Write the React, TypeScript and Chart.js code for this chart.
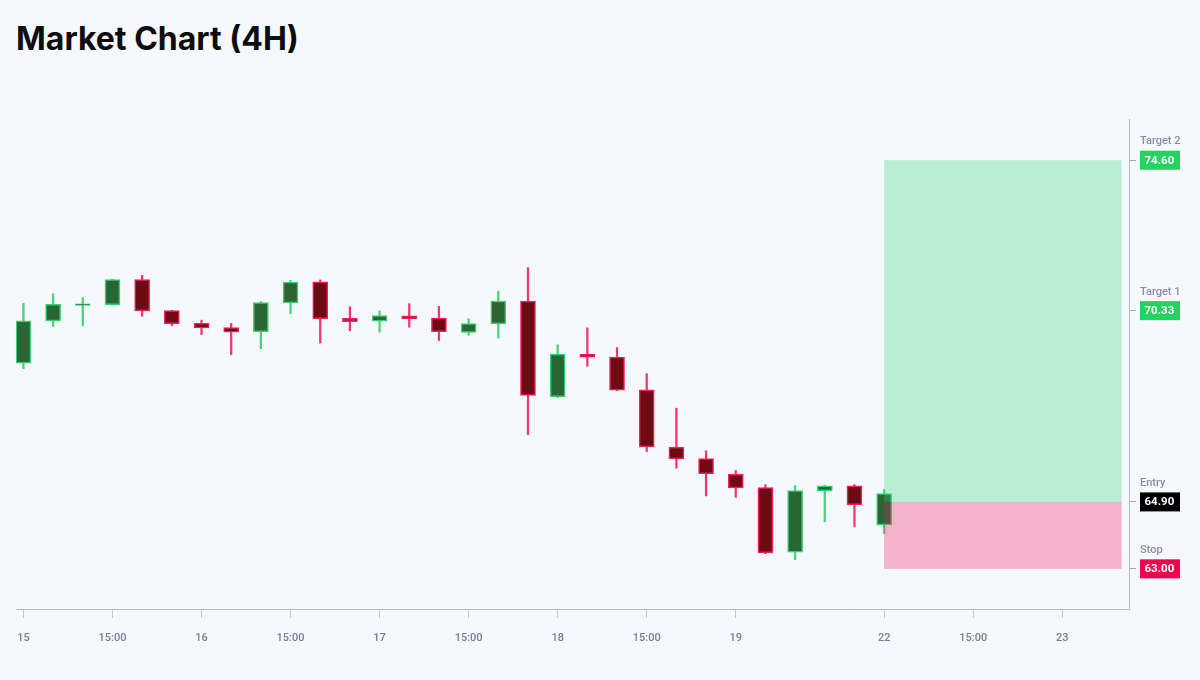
import React, { useEffect, useRef } from "react";
import { Chart, registerables } from "chart.js";

Chart.register(...registerables);

// ---- data ----
const candleIndex = [0, 1, 2, 3, 4, 5, 6, 7, 8, 9, 10, 11, 12, 13, 14, 15, 16, 17, 18, 19, 20, 21, 22, 23, 24, 25, 26, 27, 28, 29];
const openValues = [68.84, 70.04, 70.48, 70.5, 71.21, 70.33, 69.97, 69.85, 69.73, 70.55, 71.15, 70.11, 70.03, 70.18, 70.12, 69.71, 69.95, 70.6, 67.89, 69.1, 69.01, 68.08, 66.46, 66.13, 65.68, 65.31, 63.47, 65.21, 65.36, 64.25];
const highValues = [70.54, 70.81, 70.7, 71.22, 71.33, 70.34, 70.06, 69.97, 70.59, 71.19, 71.2, 70.44, 70.32, 70.53, 70.45, 70.1, 70.88, 71.55, 69.36, 69.84, 69.28, 68.54, 67.56, 66.35, 65.79, 65.39, 65.36, 65.37, 65.39, 65.25];
const lowValues = [68.68, 69.88, 69.9, 70.49, 70.17, 69.9, 69.65, 69.08, 69.25, 70.24, 69.41, 69.76, 69.72, 69.86, 69.48, 69.63, 69.55, 66.81, 67.86, 68.75, 68.06, 66.33, 65.86, 65.07, 65.03, 63.43, 63.26, 64.34, 64.19, 64.0];
const closeValues = [70.04, 70.51, 70.52, 71.21, 70.32, 69.96, 69.84, 69.72, 70.56, 71.14, 70.1, 70.02, 70.19, 70.1, 69.73, 69.96, 70.6, 67.92, 69.1, 69.01, 68.07, 66.46, 66.12, 65.7, 65.3, 63.46, 65.22, 65.36, 64.82, 65.14];

const xTickIndex = [0, 3, 6, 9, 12, 15, 18, 21, 24, 29, 32, 35];
const xTickLabels = ["15", "15:00", "16", "15:00", "17", "15:00", "18", "15:00", "19", "22", "15:00", "23"];

const levelNames = ["Target 2", "Target 1", "Entry", "Stop"];
const levelValues = [74.6, 70.33, 64.9, 63.0];
const levelColors = ["#22d35f", "#22d35f", "#000000", "#f0044f"];

const tradeStartIndex = 29;
const tradeEndIndex = 37;

const X_MIN = -0.25;
const X_MAX = 37.25;
const Y_MIN = 61.86;
const Y_MAX = 75.77;

const UP_FILL = "#2a6536";
const DOWN_FILL = "#6e0b12";
const UP_LINE = "#35d16a";
const DOWN_LINE = "#f01e5c";
const UP_WICK = "#45d47c";
const DOWN_WICK = "#f5356f";

const isUp = (i: number) => closeValues[i] >= openValues[i];

const overlayPlugin = {
  id: "tradeOverlay",
  afterDatasetsDraw(chart: any) {
    const { ctx, scales } = chart;
    const xs = scales.x;
    const ys = scales.y;
    const x0 = xs.getPixelForValue(tradeStartIndex);
    const x1 = xs.getPixelForValue(tradeEndIndex);
    const yT = ys.getPixelForValue(levelValues[0]);
    const yE = ys.getPixelForValue(levelValues[2]);
    const yS = ys.getPixelForValue(levelValues[3]);
    ctx.save();
    ctx.fillStyle = "rgba(38, 212, 110, 0.29)";
    ctx.fillRect(x0, yT, x1 - x0, yE - yT);
    ctx.fillStyle = "rgba(242, 20, 90, 0.3)";
    ctx.fillRect(x0, yE, x1 - x0, yS - yE);
    ctx.restore();
  },
  afterDraw(chart: any) {
    const { ctx, scales } = chart;
    const ys = scales.y;
    const left = ys.left + 11;
    ctx.save();
    levelValues.forEach((v, i) => {
      const y = ys.getPixelForValue(v);
      ctx.font = "500 11px Roboto";
      ctx.fillStyle = "#8a8ea6";
      ctx.textBaseline = "middle";
      ctx.textAlign = "left";
      ctx.fillText(levelNames[i], left, y - 18.5);
      ctx.fillStyle = levelColors[i];
      ctx.fillRect(left, y - 9.5, 40, 19);
      ctx.font = "bold 11.5px Roboto";
      ctx.fillStyle = "#ffffff";
      ctx.fillText(v.toFixed(2), left + 4.5, y + 0.5);
    });
    ctx.restore();
  },
};

export default function App() {
  const canvasRef = useRef<HTMLCanvasElement | null>(null);

  useEffect(() => {
    document.body.style.margin = "0";
    document.body.style.background = "#f5f8fd";
    const canvas = canvasRef.current;
    if (!canvas) return;
    Chart.defaults.font.family = "Roboto";

    const chart = new Chart(canvas, {
      type: "bar",
      data: {
        datasets: [
          {
            label: "body",
            data: candleIndex.map((i) => ({ x: i, y: [openValues[i], closeValues[i]] })) as any,
            backgroundColor: candleIndex.map((i) => (isUp(i) ? UP_FILL : DOWN_FILL)),
            borderColor: candleIndex.map((i) => (isUp(i) ? UP_LINE : DOWN_LINE)),
            borderWidth: 1.5,
            borderSkipped: false,
            barThickness: 15,
          } as any,
          {
            label: "wick",
            data: candleIndex.map((i) => ({ x: i, y: [lowValues[i], highValues[i]] })) as any,
            backgroundColor: candleIndex.map((i) => (isUp(i) ? UP_WICK : DOWN_WICK)),
            borderWidth: 0,
            barThickness: 1.6,
          } as any,
        ],
      },
      options: {
        animation: false,
        responsive: true,
        maintainAspectRatio: false,
        layout: { padding: { left: 16, top: 119, right: 0, bottom: 0 } },
        datasets: { bar: { grouped: false } } as any,
        plugins: {
          legend: { display: false },
          tooltip: { enabled: false },
          title: { display: false },
        },
        scales: {
          x: {
            type: "linear",
            min: X_MIN,
            max: X_MAX,
            offset: false,
            afterBuildTicks: (scale: any) => {
              scale.ticks = xTickIndex.map((v) => ({ value: v }));
            },
            afterFit: (scale: any) => {
              scale.height = 71;
            },
            ticks: {
              autoSkip: false,
              maxRotation: 0,
              padding: 14,
              color: "#787c96",
              font: { size: 11, family: "Roboto", weight: "500" as any },
              callback: (value: any) => {
                const k = xTickIndex.indexOf(Number(value));
                return k >= 0 ? xTickLabels[k] : "";
              },
            },
            grid: {
              drawOnChartArea: false,
              drawTicks: true,
              tickLength: 9,
              offset: false,
              color: "#c3c6d0",
            },
            border: { display: true, color: "#b8bbc6", width: 1 },
          },
          y: {
            type: "linear",
            position: "right",
            min: Y_MIN,
            max: Y_MAX,
            afterBuildTicks: (scale: any) => {
              scale.ticks = levelValues.map((v) => ({ value: v }));
            },
            afterFit: (scale: any) => {
              scale.width = 71;
            },
            ticks: { display: false },
            grid: {
              drawOnChartArea: false,
              drawTicks: true,
              tickLength: 7,
              color: "#a9adb9",
            },
            border: { display: true, color: "#b8bbc6", width: 1 },
          },
        },
      },
      plugins: [overlayPlugin],
    });
    return () => chart.destroy();
  }, []);

  return (
    <div style={{ position: "relative", width: 1200, height: 680, background: "#f5f8fd", overflow: "hidden" }}>
      <div
        style={{
          position: "absolute",
          left: 16,
          top: 23,
          font: "700 32px Inter",
          lineHeight: "32px",
          color: "#0d0d0d",
          whiteSpace: "nowrap",
        }}
      >
        Market Chart (4H)
      </div>
      <canvas ref={canvasRef} style={{ position: "absolute", left: 0, top: 0, width: 1200, height: 680 }} />
    </div>
  );
}
